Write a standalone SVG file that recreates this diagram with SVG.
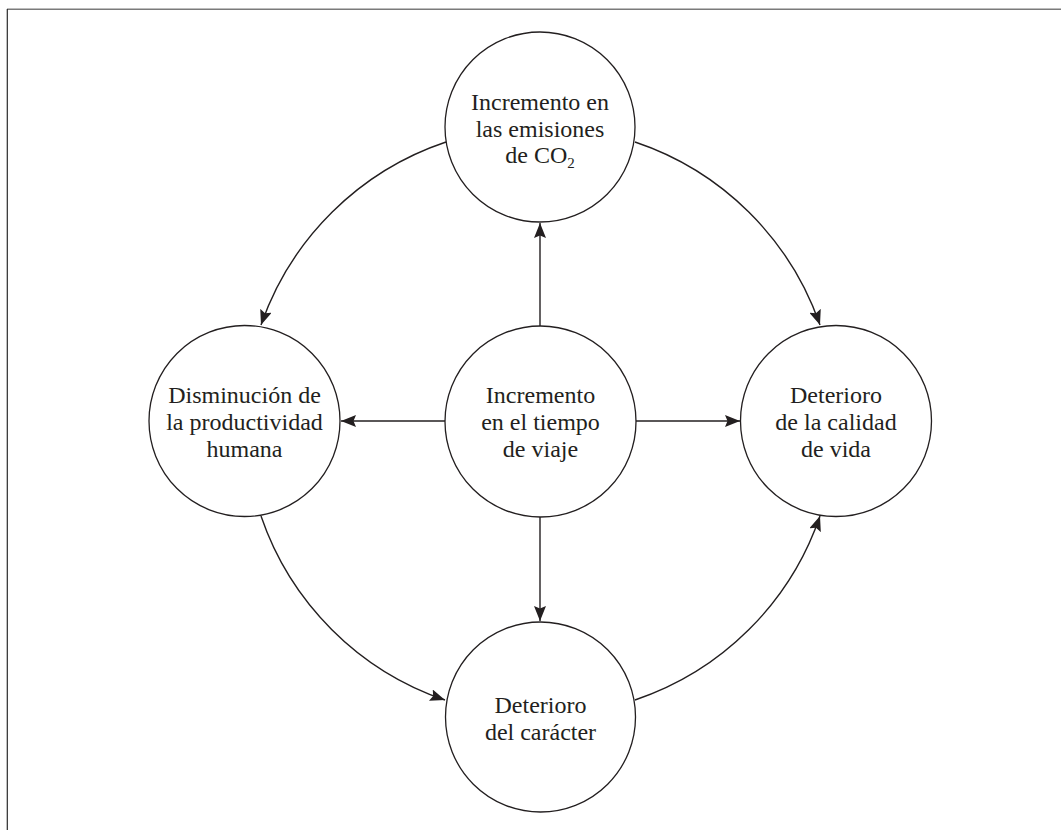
<svg xmlns="http://www.w3.org/2000/svg" width="1061" height="830" viewBox="0 0 1061 830">
  <style>
    .node circle { fill: #fff; stroke: #231f20; stroke-width: 1.3; }
    .node text { font-family: "Liberation Serif", "Times New Roman", serif; font-size: 24px; fill: #231f20; text-anchor: middle; }
    .conn path, .conn line { fill: none; stroke: #231f20; stroke-width: 1.4; marker-end: url(#ah); }
  </style>
  <defs>
    <marker id="ah" viewBox="0 0 15 12" refX="15" refY="6" markerWidth="15" markerHeight="12" markerUnits="userSpaceOnUse" orient="auto">
      <path d="M0,0 L15,6 L0,12 L2.5,6 Z" fill="#231f20"/>
    </marker>
  </defs>
  <rect width="1061" height="830" fill="#fff"/>
  <g id="frame">
    <line x1="7" y1="9.3" x2="1061" y2="9.3" stroke="#7a7a7a" stroke-width="1.6"/>
    <line x1="7.3" y1="9" x2="7.3" y2="830" stroke="#2a2a2a" stroke-width="1.2"/>
  </g>
  <g class="conn" id="connectors">
    <line x1="540" y1="326" x2="540" y2="223"/>
    <line x1="445" y1="421" x2="341" y2="421"/>
    <line x1="636" y1="421" x2="740" y2="421"/>
    <line x1="540" y1="517" x2="540" y2="621"/>
    <path d="M446,142 A295,295 0 0 0 261,325"/>
    <path d="M635,142 A295,295 0 0 1 820,325"/>
    <path d="M261,516 A295,295 0 0 0 445,700"/>
    <path d="M635,700 A295,295 0 0 0 820,516"/>
  </g>
  <g class="node" id="n-co2">
    <circle cx="540" cy="127" r="95"/>
    <text x="540" y="110">Incremento en</text>
    <text x="540" y="136.7">las emisiones</text>
    <text x="540" y="163.3">de CO<tspan font-size="15" dy="5">2</tspan></text>
  </g>
  <g class="node" id="n-productividad">
    <circle cx="244.5" cy="421" r="95.5"/>
    <text x="244.5" y="403.3">Disminución de</text>
    <text x="244.5" y="430">la productividad</text>
    <text x="244.5" y="456.7">humana</text>
  </g>
  <g class="node" id="n-tiempo">
    <circle cx="540.5" cy="421.5" r="95.5"/>
    <text x="540.5" y="403.3">Incremento</text>
    <text x="540.5" y="430">en el tiempo</text>
    <text x="540.5" y="456.7">de viaje</text>
  </g>
  <g class="node" id="n-calidad">
    <circle cx="836" cy="421" r="95.5"/>
    <text x="836" y="402.7">Deterioro</text>
    <text x="836" y="430">de la calidad</text>
    <text x="836" y="456.7">de vida</text>
  </g>
  <g class="node" id="n-caracter">
    <circle cx="540.5" cy="717" r="95"/>
    <text x="540.5" y="712.7">Deterioro</text>
    <text x="540.5" y="740">del carácter</text>
  </g>
</svg>
